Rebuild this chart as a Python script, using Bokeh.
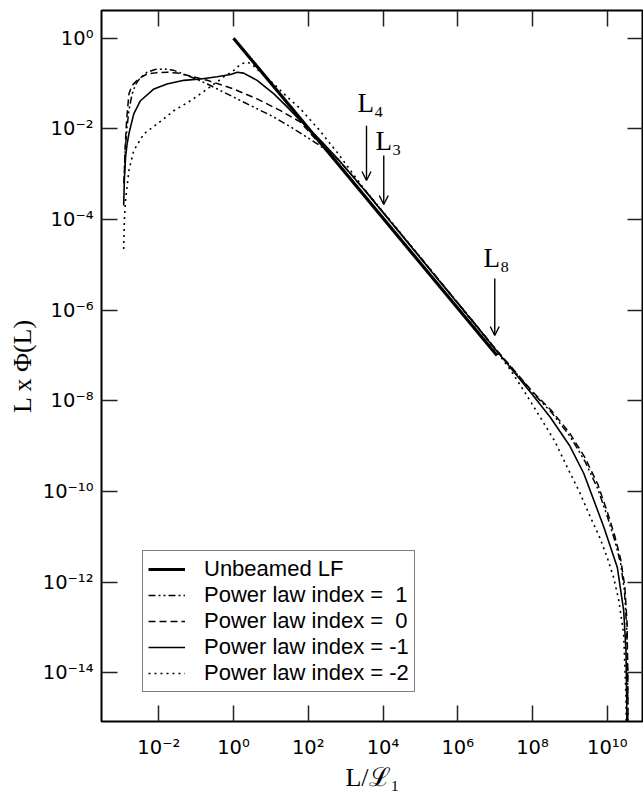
import numpy as np
from bokeh.plotting import figure
from bokeh.models import (Range1d, FixedTicker, LogAxis, Arrow, OpenHead, Label,
                          Legend, LegendItem, CustomJSTickFormatter)
from bokeh.embed import file_html
from bokeh.resources import INLINE

# ---------------- data (log10 values) ----------------
x_tick_exps = [-2, 0, 2, 4, 6, 8, 10]
y_tick_exps = [-14, -12, -10, -8, -6, -4, -2, 0]

unbeamed_logL = [0.0, 7.05]
unbeamed_logY = [0.0, -7.0]

idx1_logL = [-2.93, -2.90, -2.85, -2.80, -2.72, -2.62, -2.50, -2.31, -2.10, -1.85, -1.60, -1.24, -0.70, 0.0,
             0.54, 1.08, 1.61, 2.24, 2.8, 3.5, 4.5, 5.5, 6.5, 7.0, 7.5, 8.0, 8.5, 9.0, 9.4, 9.75, 10.0, 10.2,
             10.36, 10.46, 10.52, 10.545, 10.555]
idx1_logY = [-3.2, -2.5, -1.96, -1.6, -1.25, -1.02, -0.88, -0.75, -0.69, -0.68, -0.71, -0.82, -1.01, -1.30,
             -1.52, -1.74, -2.0, -2.33, -2.68, -3.34, -4.34, -5.34, -6.34, -6.85, -7.33, -7.82, -8.25, -8.78,
             -9.33, -9.95, -10.55, -11.08, -11.6, -12.2, -13.0, -14.0, -16.0]

idx0_logL = [-2.93, -2.90, -2.86, -2.80, -2.72, -2.58, -2.45, -2.31, -2.05, -1.78, -1.50, -1.24, -0.70, 0.0,
             0.63, 1.26, 1.79, 2.24, 2.8, 3.5, 4.5, 5.5, 6.5, 7.0, 7.5, 8.0, 8.5, 9.0, 9.4, 9.75, 10.0, 10.2,
             10.36, 10.47, 10.53, 10.55, 10.56]
idx0_logY = [-3.2, -2.4, -1.8, -1.23, -1.05, -0.93, -0.85, -0.79, -0.76, -0.75, -0.77, -0.82, -0.93, -1.12,
             -1.34, -1.60, -1.85, -2.27, -2.68, -3.34, -4.34, -5.34, -6.34, -6.85, -7.32, -7.80, -8.21, -8.72,
             -9.25, -9.85, -10.45, -10.98, -11.5, -12.1, -12.9, -14.0, -16.0]

idxm1_logL = [-2.94, -2.92, -2.89, -2.85, -2.80, -2.67, -2.49, -2.13, -1.78, -1.33, -0.88, -0.44, -0.08, 0.10,
              0.27, 0.63, 1.08, 1.44, 1.79, 2.3, 2.8, 3.5, 4.5, 5.5, 6.5, 7.0, 7.5, 8.0, 8.48, 9.0, 9.37, 9.91,
              10.27, 10.44, 10.5, 10.52, 10.53]
idxm1_logY = [-3.69, -3.1, -2.63, -2.35, -2.11, -1.67, -1.38, -1.12, -1.01, -0.93, -0.90, -0.85, -0.80, -0.75,
              -0.77, -0.93, -1.23, -1.52, -1.82, -2.23, -2.67, -3.35, -4.35, -5.35, -6.35, -6.86, -7.36, -7.87,
              -8.37, -9.0, -9.6, -10.79, -11.68, -12.63, -13.5, -14.5, -16.0]

idxm2_logL = [-2.94, -2.92, -2.89, -2.80, -2.67, -2.40, -2.04, -1.60, -1.15, -0.70, -0.27, 0.01, 0.19, 0.37,
              0.50, 0.72, 1.08, 1.44, 1.79, 2.3, 2.8, 3.5, 4.5, 5.5, 6.5, 7.0, 7.41, 7.8, 8.21, 8.6, 8.93, 9.25,
              9.55, 9.8, 10.0, 10.17, 10.31, 10.44, 10.5, 10.52]
idxm2_logY = [-4.65, -4.0, -3.58, -2.92, -2.48, -2.11, -1.89, -1.60, -1.38, -1.12, -0.86, -0.71, -0.57, -0.53,
              -0.58, -0.75, -1.01, -1.30, -1.56, -2.03, -2.55, -3.33, -4.33, -5.34, -6.36, -6.87, -7.32, -7.82,
              -8.37, -8.9, -9.47, -10.0, -10.57, -11.02, -11.46, -11.9, -12.41, -13.15, -14.5, -16.0]

legend_labels = ["Unbeamed LF", "Power law index = \u00a01", "Power law index = \u00a00",
                 "Power law index = -1", "Power law index = -2"]

marker_texts = ["L\u2084", "L\u2083", "L\u2088"]
marker_text_logL = [3.317, 3.80, 6.69]
marker_text_logY = [-1.42, -2.26, -4.86]
arrow_logL = [3.558, 4.02, 6.99]
arrow_top_logY = [-1.93, -2.59, -5.30]
arrow_tip_logY = [-3.14, -3.67, -6.56]

x_lo_exp, x_hi_exp = -3.533, 10.97
y_lo_exp, y_hi_exp = -15.078, 0.611

# ---------------- figure ----------------
SANS = "Liberation Sans"
TICK_FONT = "DejaVu Sans"
SERIF = "Liberation Serif"

p = figure(frame_width=542, frame_height=711, x_axis_type="log", y_axis_type="log",
           x_range=Range1d(10 ** x_lo_exp, 10 ** x_hi_exp),
           y_range=Range1d(10 ** y_lo_exp, 10 ** y_hi_exp),
           output_backend="svg", toolbar_location=None,
           min_border_left=101, min_border_right=0, min_border_top=10, min_border_bottom=77)
p.grid.visible = False
p.outline_line_color = "black"
p.outline_line_width = 2
p.background_fill_color = "white"
p.border_fill_color = "white"

sup_fmt = CustomJSTickFormatter(code="""
const e = Math.round(Math.log10(tick));
const sup = {'-':'\u207b','0':'\u2070','1':'\u00b9','2':'\u00b2','3':'\u00b3','4':'\u2074',
             '5':'\u2075','6':'\u2076','7':'\u2077','8':'\u2078','9':'\u2079'};
return '10' + String(e).split('').map(c => sup[c]).join('');
""")
empty_fmt = CustomJSTickFormatter(code="return '';")

xt = FixedTicker(ticks=[10.0 ** k for k in x_tick_exps], minor_ticks=[])
yt = FixedTicker(ticks=[10.0 ** k for k in y_tick_exps], minor_ticks=[])


def style(ax):
    ax.major_tick_in = 16
    ax.major_tick_out = 0
    ax.minor_tick_line_color = None
    ax.major_tick_line_width = 1.5
    ax.major_tick_line_color = "#222222"
    ax.axis_line_color = None


xa = p.xaxis[0]
ya = p.yaxis[0]
xa.ticker = xt
ya.ticker = yt
xa.formatter = sup_fmt
ya.formatter = sup_fmt
for ax in (xa, ya):
    style(ax)
    ax.major_label_text_font = TICK_FONT
    ax.major_label_text_font_size = "19.5px"
    ax.major_label_text_color = "black"
    ax.axis_label_text_font = SERIF
    ax.axis_label_text_font_size = "26px"
    ax.axis_label_text_font_style = "normal"
    ax.axis_label_text_color = "black"
xa.major_label_standoff = 14
ya.major_label_standoff = 8
xa.axis_label = "L/\u2112\u2081"
ya.axis_label = "L x \u03a6(L)"
xa.axis_label_standoff = 1
ya.axis_label_standoff = 3

top = LogAxis(ticker=xt, formatter=empty_fmt, major_label_standoff=0,
              major_label_text_font_size="0px", fixed_location=10 ** y_hi_exp)
right = LogAxis(ticker=yt, formatter=empty_fmt, major_label_standoff=0,
                major_label_text_font_size="0px", fixed_location=10 ** x_hi_exp)
style(top)
style(right)
p.add_layout(top, "above")
p.add_layout(right, "right")

# ---------------- curves ----------------
def L(a):
    return 10.0 ** np.asarray(a)

r_unb = p.line(L(unbeamed_logL), L(unbeamed_logY), line_color="black", line_width=3.2)
r1 = p.line(L(idx1_logL), L(idx1_logY), line_color="black", line_width=1.5, line_dash="7 3 2 3 2 3")
r0 = p.line(L(idx0_logL), L(idx0_logY), line_color="black", line_width=1.5, line_dash="7 4")
rm1 = p.line(L(idxm1_logL), L(idxm1_logY), line_color="black", line_width=1.6)
rm2 = p.line(L(idxm2_logL), L(idxm2_logY), line_color="black", line_width=1.6, line_dash="2 4")

# ---------------- arrows and markers ----------------
for lx, y0, y1 in zip(arrow_logL, arrow_top_logY, arrow_tip_logY):
    p.add_layout(Arrow(end=OpenHead(size=9, line_width=1.4, line_color="black"),
                       x_start=10 ** lx, y_start=10 ** y0, x_end=10 ** lx, y_end=10 ** y1,
                       line_width=1.4, line_color="black"))
for t, lx, ly in zip(marker_texts, marker_text_logL, marker_text_logY):
    p.add_layout(Label(x=10 ** lx, y=10 ** ly, text=t, text_font=SERIF, text_font_size="27px",
                       text_baseline="alphabetic", text_align="left", text_color="black"))

# ---------------- legend ----------------
legend = Legend(items=[LegendItem(label=lab, renderers=[r]) for lab, r in
                       zip(legend_labels, [r_unb, r1, r0, rm1, rm2])],
                location=(41, 29), margin=0, padding=5, spacing=0,
                glyph_width=37, glyph_height=24, label_height=24, label_standoff=19,
                label_text_font=SANS, label_text_font_size="22px", label_text_color="black",
                border_line_color="black", border_line_width=1.3,
                background_fill_color="white", background_fill_alpha=1.0)
p.add_layout(legend)

open("out.html", "w").write(file_html(p, INLINE))
